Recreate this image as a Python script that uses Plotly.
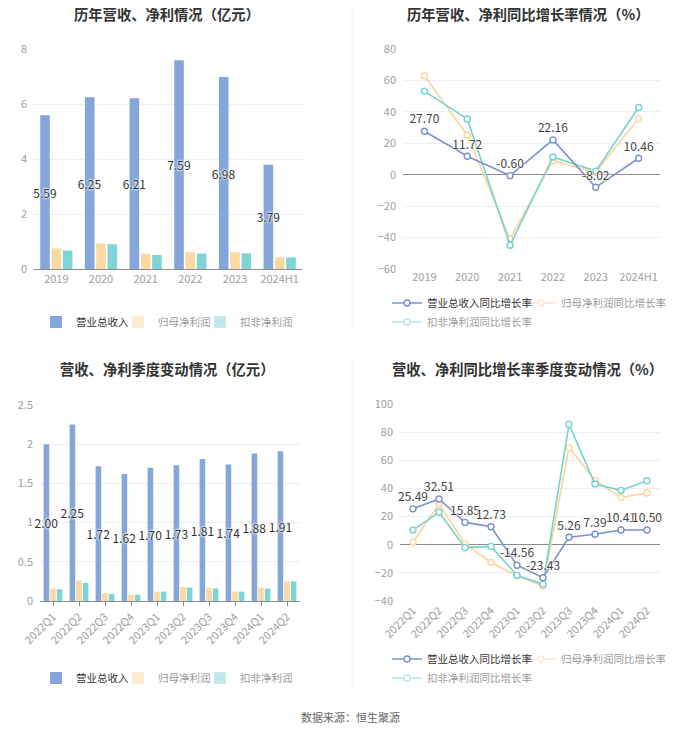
import plotly.graph_objects as go

FONT = "Noto Sans CJK SC"

# ---------------- data ----------------
years = ["2019", "2020", "2021", "2022", "2023", "2024H1"]
rev_year = [5.59, 6.25, 6.21, 7.59, 6.98, 3.79]
np_year = [0.75, 0.93, 0.56, 0.61, 0.61, 0.42]
npd_year = [0.67, 0.90, 0.51, 0.56, 0.57, 0.42]

rev_yoy = [27.70, 11.72, -0.60, 22.16, -8.02, 10.46]
np_yoy = [63.0, 25.3, -40.9, 8.9, 1.5, 35.7]
npd_yoy = [53.2, 35.5, -44.9, 11.3, 2.3, 42.8]

quarters = ["2022Q1", "2022Q2", "2022Q3", "2022Q4", "2023Q1", "2023Q2",
            "2023Q3", "2023Q4", "2024Q1", "2024Q2"]
rev_q = [2.00, 2.25, 1.72, 1.62, 1.70, 1.73, 1.81, 1.74, 1.88, 1.91]
np_q = [0.16, 0.26, 0.10, 0.08, 0.12, 0.18, 0.17, 0.12, 0.17, 0.25]
npd_q = [0.15, 0.23, 0.09, 0.08, 0.12, 0.17, 0.16, 0.12, 0.16, 0.25]

rev_q_yoy = [25.49, 32.51, 15.85, 12.73, -14.56, -23.43, 5.26, 7.39, 10.41, 10.50]
np_q_yoy = [1.7, 29.1, 0.5, -12.6, -22.0, -29.4, 69.0, 45.7, 33.6, 36.7]
npd_q_yoy = [10.4, 23.2, -2.1, -1.2, -21.8, -28.0, 85.5, 43.1, 38.6, 45.5]

titles = ["历年营收、净利情况（亿元）", "历年营收、净利同比增长率情况（%）",
          "营收、净利季度变动情况（亿元）", "营收、净利同比增长率季度变动情况（%）"]
bar_names = ["营业总收入", "归母净利润", "扣非净利润"]
line_names = ["营业总收入同比增长率", "归母净利润同比增长率", "扣非净利润同比增长率"]
source = "数据来源：恒生聚源"

# ---------------- style ----------------
C_BLUE = "#84a6da"
C_ORANGE = "#fdd9a1"
C_TEAL = "#7fd4d4"
L_BLUE = "#7b91cf"
L_ORANGE = "#fbd59c"
L_TEAL = "#74d2d2"
GRID = "#eceff5"
AXIS = "#8a8c94"
TICK = "#a0a0a0"
HALO = "0px 0px 2px white, 0px 0px 2px white, 0px 0px 3px white"

# page body has an 8px margin: figure is 16px smaller and coordinates are shifted
OFF = 8
W, H = 700 - 2 * OFF, 734 - 2 * OFF


def px_x(p):
    return (p - OFF) / W


def px_y(p):
    return 1 - (p - OFF) / H


fig = go.Figure()

bar_text_font = dict(size=12, color="#333333", family=FONT, shadow=HALO)


def add_bars(xs, series, xa, ya, legs):
    cols = [C_BLUE, C_ORANGE, C_TEAL]
    for i, (name, vals, col) in enumerate(zip(bar_names, series, cols)):
        kw = {}
        if i == 0:
            kw = dict(text=[f"{v:.2f}" for v in vals], textposition="inside",
                      insidetextanchor="middle", textangle=0, constraintext="none",
                      textfont=bar_text_font)
        fig.add_trace(go.Bar(x=xs, y=vals, name=name, marker=dict(color=col, line=dict(width=0)),
                             xaxis=xa, yaxis=ya, legend=legs[i], offsetgroup=name,
                             cliponaxis=False, showlegend=(i == 0), **kw))
        if i > 0:  # faded legend entry (as in the reference)
            fig.add_trace(go.Bar(x=xs, y=vals, name=name, marker=dict(color=col),
                                 xaxis=xa, yaxis=ya, legend=legs[i], offsetgroup=name,
                                 visible="legendonly"))


def add_lines(xs, series, xa, ya, legs):
    cols = [L_BLUE, L_ORANGE, L_TEAL]
    for i in [1, 2, 0]:  # revenue line drawn last (on top)
        name, vals, col = line_names[i], series[i], cols[i]
        kw = dict(mode="lines+markers")
        if i == 0:
            kw = dict(mode="lines+markers+text", text=[f"{v:.2f}" for v in vals],
                      textposition="top center",
                      textfont=dict(size=12, color="#444444", family=FONT, shadow=HALO))
        line = dict(color=col, width=1.6)
        marker = dict(symbol="circle", size=6, color="white", line=dict(color=col, width=1.4))
        fig.add_trace(go.Scatter(x=xs, y=vals, name=name, xaxis=xa, yaxis=ya,
                                 line=line, marker=marker, legend=legs[i],
                                 showlegend=(i == 0), cliponaxis=False, **kw))
        if i > 0:
            fig.add_trace(go.Scatter(x=xs, y=vals, name=name, xaxis=xa, yaxis=ya,
                                     mode="lines+markers", line=line, marker=marker,
                                     legend=legs[i], visible="legendonly"))


add_bars(years, [rev_year, np_year, npd_year], "x", "y", ["legend", "legend2", "legend3"])
add_lines(years, [rev_yoy, np_yoy, npd_yoy], "x2", "y2", ["legend4", "legend5", "legend6"])
add_bars(quarters, [rev_q, np_q, npd_q], "x3", "y3", ["legend7", "legend8", "legend9"])
add_lines(quarters, [rev_q_yoy, np_q_yoy, npd_q_yoy], "x4", "y4", ["legend10", "legend11", "legend12"])

tickfont = dict(size=11, color=TICK, family=FONT)

doms = {
    "1": ((34, 302), (269, 49)),
    "2": ((403, 660), (269, 49)),
    "3": ((40, 300), (601, 405)),
    "4": ((400, 660), (601, 404)),
}
yranges = {"1": [0, 8], "2": [-60, 80], "3": [0, 2.5], "4": [-40, 100]}
ydticks = {"1": 2, "2": 20, "3": 0.5, "4": 20}
ncat = {"1": len(years), "2": len(years), "3": len(quarters), "4": len(quarters)}

layout = dict(
    width=W, height=H, margin=dict(l=0, r=0, t=0, b=0, autoexpand=False),
    paper_bgcolor="white", plot_bgcolor="white",
    font=dict(family=FONT, color="#333333"),
    barmode="group", bargap=0.24, bargroupgap=0.15,
    showlegend=True,
)

for k, ((x0, x1), (yb, yt)) in doms.items():
    sx = "" if k == "1" else k
    is_bar = k in ("1", "3")
    layout[f"xaxis{sx}"] = dict(domain=[px_x(x0), px_x(x1)], anchor=f"y{sx}", type="category",
                               tickfont=tickfont, showgrid=False, zeroline=False,
                               showline=is_bar, linecolor=AXIS, linewidth=1,
                               ticks="outside" if k == "3" else "", ticklen=4,
                               tickcolor=AXIS, fixedrange=True, automargin=False,
                               tickangle=-45 if k in ("3", "4") else 0,
                               range=[-0.5, ncat[k] - 0.5])
    layout[f"yaxis{sx}"] = dict(domain=[px_y(yb), px_y(yt)], anchor=f"x{sx}", tickfont=tickfont,
                               range=yranges[k], dtick=ydticks[k],
                               gridcolor=GRID, gridwidth=1, showline=False,
                               zeroline=not is_bar, zerolinecolor=AXIS, zerolinewidth=1,
                               ticks="", ticklabelstandoff=6, automargin=False)

# tick marks hanging under the zero line of the growth charts
for k, extra in (("2", 5), ("4", 6)):
    (x0, x1), (yb, yt) = doms[k]
    lo, hi = yranges[k]
    zero_px = yt + (hi - 0) / (hi - lo) * (yb - yt)
    layout[f"xaxis{extra}"] = dict(domain=[px_x(x0), px_x(x1)], anchor="free",
                                  position=px_y(zero_px), overlaying=f"x{k}",
                                  range=[-0.5, ncat[k] - 0.5], tickmode="array",
                                  tickvals=list(range(ncat[k])), showticklabels=False,
                                  ticks="outside", ticklen=4, tickcolor=AXIS,
                                  showgrid=False, zeroline=False, showline=False,
                                  automargin=False, fixedrange=True)

leg_font = dict(size=10.5, color="#333333", family=FONT)


def leg(x, y):
    return dict(x=px_x(x), y=px_y(y), xanchor="left", yanchor="middle", orientation="h",
                font=leg_font, bgcolor="rgba(0,0,0,0)", itemwidth=30,
                itemclick=False, itemdoubleclick=False)


# one legend per entry, placed where the reference has it (text starts ~40px right of x)
leg_pos = [(36, 322), (118, 322), (200, 322),
           (387, 303), (521, 303), (387, 322),
           (36, 678), (118, 678), (200, 678),
           (387, 659), (521, 659), (387, 678)]
for n, (lx, ly) in enumerate(leg_pos):
    layout["legend" if n == 0 else f"legend{n + 1}"] = leg(lx, ly)

annotations = []
title_pos = [(167, 14), (528, 14), (167, 368), (527, 368)]
for t, (cx, cy) in zip(titles, title_pos):
    annotations.append(dict(text=f"<b>{t}</b>", x=px_x(cx), y=px_y(cy), xref="paper", yref="paper",
                            showarrow=False, xanchor="center", yanchor="middle",
                            font=dict(size=14.3, color="#333333", family=FONT)))
annotations.append(dict(text=source, x=px_x(350), y=px_y(717), xref="paper", yref="paper",
                        showarrow=False, xanchor="center", yanchor="middle",
                        font=dict(size=11, color="#666666", family=FONT)))
layout["annotations"] = annotations

layout["shapes"] = [
    dict(type="line", xref="paper", yref="paper", x0=px_x(352), x1=px_x(352),
         y0=px_y(8), y1=px_y(330), line=dict(color="#f2f2f2", width=1)),
    dict(type="line", xref="paper", yref="paper", x0=px_x(352), x1=px_x(352),
         y0=px_y(356), y1=px_y(690), line=dict(color="#f2f2f2", width=1)),
]

fig.update_layout(**layout)
fig.write_html("out.html")
